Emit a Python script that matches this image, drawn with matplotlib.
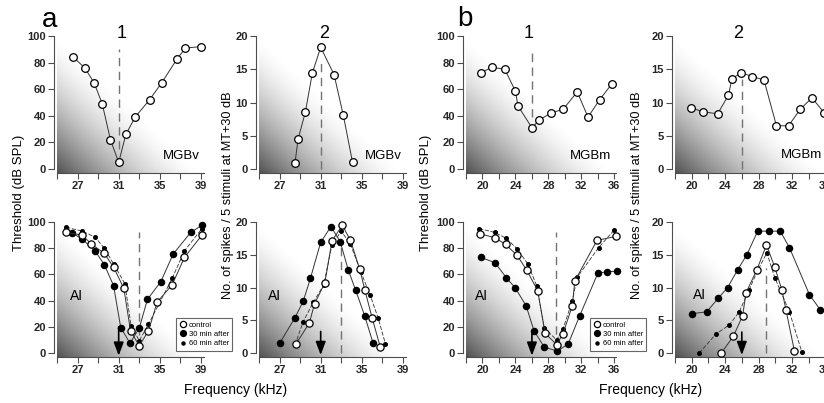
import numpy as np
import matplotlib.pyplot as plt
from matplotlib.lines import Line2D

plt.rcParams['font.family'] = ['Liberation Sans', 'DejaVu Sans']

W, H = 824, 403

# ---- a, top: MGBv neuron ----
a1_freq = [26.6, 27.7, 28.6, 29.4, 30.2, 31.0, 31.7, 32.6, 34.0, 35.2, 36.7, 37.5, 39.0]
a1_thr = [84, 76, 65, 49, 22, 5, 26, 39, 52, 65, 83, 91, 92]
a2_freq = [28.5, 28.8, 29.5, 30.2, 31.0, 32.3, 33.2, 34.1]
a2_spk = [0.9, 4.5, 8.5, 14.5, 18.3, 14.2, 8.1, 1.0]

# ---- b, top: MGBm neuron ----
b1_freq = [19.85, 21.15, 22.7, 24.0, 24.3, 26.0, 26.9, 28.3, 29.8, 31.5, 32.8, 34.2, 35.7]
b1_thr = [72.5, 76.5, 75, 58.5, 47.5, 31, 37, 42, 45, 58, 39, 52, 64]
b2_freq = [19.9, 21.4, 23.1, 24.4, 24.8, 25.9, 27.25, 28.65, 30.15, 31.6, 33.0, 34.4, 35.9]
b2_spk = [9.2, 8.6, 8.3, 11.1, 13.5, 14.5, 13.9, 13.4, 6.5, 6.5, 9.0, 10.7, 8.4]

# ---- a, bottom: AI, threshold ----
a3_ctrl_f = [25.9, 27.45, 28.3, 29.6, 30.5, 31.5, 32.15, 33.0, 33.9, 34.75, 36.2, 37.4, 39.1]
a3_ctrl_t = [92, 90, 83.5, 76, 65.5, 49.5, 17, 5.5, 17, 39, 52, 73, 90]
a3_m30_f = [26.5, 27.45, 28.7, 29.6, 30.5, 31.2, 32.1, 33.0, 33.8, 35.1, 36.3, 38.0, 39.1]
a3_m30_t = [91.5, 87, 78, 67.5, 51.5, 19.5, 7.5, 19, 41, 54.5, 75.5, 92, 97.5]
a3_m60_f = [25.9, 27.45, 28.7, 29.6, 30.5, 31.6, 32.2, 33.0, 33.9, 36.2, 37.4, 39.1]
a3_m60_t = [96, 93, 88.5, 80, 68, 53, 21, 9.5, 22, 57, 78, 95]

# ---- a, bottom: AI, spikes ----
a4_m30_f = [27.05, 28.5, 29.3, 30.0, 31.0, 32.0, 32.9, 33.7, 34.4, 35.3, 36.1]
a4_m30_s = [1.6, 5.4, 7.9, 11.4, 16.9, 19.3, 17.0, 12.6, 9.6, 5.6, 1.5]
a4_ctrl_f = [28.6, 29.9, 30.4, 31.4, 32.1, 33.1, 33.9, 34.8, 35.3, 36.0, 36.8]
a4_ctrl_s = [1.4, 4.6, 7.5, 10.7, 17.1, 19.5, 17.2, 12.8, 9.6, 5.4, 0.9]
a4_m60_f = [28.5, 29.3, 30.3, 31.3, 32.1, 33.0, 33.9, 34.9, 35.8, 36.6, 37.3]
a4_m60_s = [1.2, 4.8, 7.8, 10.4, 16.5, 18.6, 16.6, 12.4, 8.9, 5.3, 1.4]

# ---- b, bottom: AI, threshold ----
b3_ctrl_f = [19.7, 21.5, 22.8, 24.2, 25.4, 26.7, 27.6, 29.0, 29.75, 30.9, 31.2, 33.9, 36.2]
b3_ctrl_t = [91, 88, 83, 74.5, 63, 47.5, 15, 6.5, 14.5, 36, 55, 86, 89]
b3_m30_f = [19.8, 21.5, 22.9, 24.0, 25.3, 26.25, 27.5, 29.1, 30.4, 31.8, 34.0, 35.1, 36.3]
b3_m30_t = [73, 69, 57.5, 49.5, 36, 17, 4.5, 1.5, 7, 28.5, 61, 62, 62.5]
b3_m60_f = [19.6, 21.5, 22.9, 24.2, 25.5, 26.6, 27.5, 29.0, 29.75, 30.9, 31.5, 34.1, 36.0]
b3_m60_t = [95, 92, 87.5, 79.5, 68, 51, 19, 10, 18, 40, 58, 80.5, 94]

# ---- b, bottom: AI, spikes ----
b4_m30_f = [20.0, 21.8, 23.2, 24.3, 25.5, 26.6, 27.9, 29.3, 30.6, 31.7, 34.1, 35.4]
b4_m30_s = [6.0, 6.3, 8.4, 10.0, 12.7, 15.0, 18.6, 18.6, 18.6, 16.1, 8.9, 6.6]
b4_ctrl_f = [23.55, 25.0, 26.1, 26.5, 27.8, 28.95, 29.95, 30.8, 31.3, 32.3]
b4_ctrl_s = [0.0, 2.6, 5.7, 9.2, 12.7, 16.5, 13.1, 9.6, 6.5, 0.3]
b4_m60_f = [20.9, 22.9, 24.5, 25.7, 26.85, 27.9, 29.0, 29.95, 31.7, 33.2]
b4_m60_s = [0.0, 2.9, 4.3, 6.3, 9.6, 12.6, 15.3, 11.5, 6.3, 0.1]

# best frequencies (dashed lines) and conditioning frequencies (arrows)
bf_a_top, bf_a_bot = 31, 33
bf_b_top, bf_b_bot = 26, 28.9
arrow_a, arrow_b = 31, 26

legend_labels = ['control', '30 min after', '60 min after']

fig = plt.figure(figsize=(W / 100, H / 100), dpi=100)


def add_ax(left, right, top, bottom):
    return fig.add_axes([left / W, 1 - bottom / H, (right - left) / W, (bottom - top) / H])


def shade(ax):
    u = np.linspace(0, 1, 200)
    U, V = np.meshgrid(u, u)
    s = np.clip(U + V, 0, 1)
    g = 1 - 0.68 * (1 - s) ** 1.5
    ax.imshow(g, cmap='gray', vmin=0, vmax=1, extent=[0, 1, 0, 1], origin='lower',
              transform=ax.transAxes, aspect='auto', zorder=0, interpolation='bilinear')


def style(ax, xlim, xmaj, ymax, ystep):
    shade(ax)
    ax.set_xlim(*xlim)
    ax.set_ylim(-0.03 * ymax, ymax)
    for sp in ['top', 'right']:
        ax.spines[sp].set_visible(False)
    ax.spines['left'].set_position(('outward', 2))
    ax.spines['left'].set_bounds(0, ymax)
    ax.spines['left'].set_color('0.3')
    ax.spines['bottom'].set_color('0.3')
    ax.set_yticks(np.arange(0, ymax + 1, ystep))
    ax.set_xticks(xmaj)
    ax.set_xticks(np.arange(xmaj[0] - 2, xmaj[-1] + 1, 2), minor=True)
    ax.tick_params(length=4, width=0.8, color='0.3', labelsize=8, pad=2)
    ax.tick_params(which='minor', length=4, width=0.8, color='0.3')
    for lab in ax.get_xticklabels() + ax.get_yticklabels():
        lab.set_fontweight('bold')
        lab.set_color('0.15')


def vdash(ax, x, y0, y1):
    ax.plot([x, x], [y0, y1], ls=(0, (6, 4)), color='0.45', lw=1, zorder=2)


def arrow(ax, x, y0, y1):
    ax.annotate('', xy=(x, y1), xytext=(x, y0), annotation_clip=False, zorder=5,
                arrowprops=dict(arrowstyle='-|>,head_width=0.3,head_length=0.8',
                                color='k', lw=1.2, shrinkA=0, shrinkB=0))


def open_line(ax, f, v, ms=5.5):
    ax.plot(f, v, '-', color='0.2', lw=0.7, marker='o', ms=ms, mfc='white', mec='k',
            mew=0.9, zorder=4, clip_on=False)


def three(ax, c, m30, m60):
    ax.plot(m60[0], m60[1], color='0.2', lw=0.6, ls=(0, (5, 2)), marker='o', ms=2.6,
            mfc='k', mec='k', zorder=3, clip_on=False)
    ax.plot(m30[0], m30[1], color='0.2', lw=0.7, marker='o', ms=4.4,
            mfc='k', mec='k', zorder=3, clip_on=False)
    open_line(ax, c[0], c[1], ms=5.2)


xa = (25.8, 39.3)
xb = (19.3, 36.2)
ta = [27, 31, 35, 39]
tb = [20, 24, 28, 32, 36]

# top row
a1 = add_ax(57, 204, 36, 173)
style(a1, xa, ta, 100, 20)
vdash(a1, bf_a_top, 15, 90)
open_line(a1, a1_freq, a1_thr)
a1.text(0.97, 0.08, 'MGBv', transform=a1.transAxes, ha='right', va='bottom', fontsize=9.5)

a2 = add_ax(259, 406, 36, 173)
style(a2, xa, ta, 20, 5)
vdash(a2, bf_a_top, 0, 16)
open_line(a2, a2_freq, a2_spk)
a2.text(0.97, 0.08, 'MGBv', transform=a2.transAxes, ha='right', va='bottom', fontsize=9.5)

b1 = add_ax(466, 616, 36, 173)
style(b1, xb, tb, 100, 20)
vdash(b1, bf_b_top, 39, 89)
open_line(b1, b1_freq, b1_thr)
b1.text(0.97, 0.08, 'MGBm', transform=b1.transAxes, ha='right', va='bottom', fontsize=9.5)

b2 = add_ax(675, 827, 36, 173)
style(b2, xb, tb, 20, 5)
vdash(b2, bf_b_top, 0, 13.5)
open_line(b2, b2_freq, b2_spk)
b2.text(35.6, 1.2, 'MGBm', ha='right', va='bottom', fontsize=9.5)

# bottom row
a3 = add_ax(57, 204, 222, 357)
style(a3, xa, ta, 100, 20)
vdash(a3, bf_a_bot, 3, 92)
three(a3, (a3_ctrl_f, a3_ctrl_t), (a3_m30_f, a3_m30_t), (a3_m60_f, a3_m60_t))
arrow(a3, arrow_a, 20, -2)
a3.text(0.09, 0.42, 'AI', transform=a3.transAxes, fontsize=10)

a4 = add_ax(259, 406, 222, 357)
style(a4, xa, ta, 20, 5)
vdash(a4, bf_a_bot, 0, 16.5)
three(a4, (a4_ctrl_f, a4_ctrl_s), (a4_m30_f, a4_m30_s), (a4_m60_f, a4_m60_s))
arrow(a4, arrow_a, 3.3, -0.3)
a4.text(0.06, 0.42, 'AI', transform=a4.transAxes, fontsize=10)

b3 = add_ax(466, 616, 222, 357)
style(b3, xb, tb, 100, 20)
vdash(b3, bf_b_bot, 4, 92.5)
three(b3, (b3_ctrl_f, b3_ctrl_t), (b3_m30_f, b3_m30_t), (b3_m60_f, b3_m60_t))
arrow(b3, arrow_b, 16, -2)
b3.text(0.06, 0.42, 'AI', transform=b3.transAxes, fontsize=10)

b4 = add_ax(675, 827, 222, 357)
style(b4, xb, tb, 20, 5)
vdash(b4, bf_b_bot, 0, 13)
three(b4, (b4_ctrl_f, b4_ctrl_s), (b4_m30_f, b4_m30_s), (b4_m60_f, b4_m60_s))
arrow(b4, arrow_b, 3.2, -0.3)
b4.text(20.2, 8.2, 'AI', fontsize=10)

# legends
handles = [Line2D([], [], ls='none', marker='o', ms=4.5, mfc='white', mec='k', mew=0.9),
           Line2D([], [], ls='none', marker='o', ms=4.2, mfc='k', mec='k'),
           Line2D([], [], ls='none', marker='o', ms=2.2, mfc='k', mec='k')]
for x0 in (176, 590):
    leg = fig.legend(handles, legend_labels, loc='upper left',
                     bbox_to_anchor=(x0 / W, 1 - 318 / H), fontsize=5.5, frameon=True,
                     fancybox=False, edgecolor='0.4', framealpha=1, borderpad=0.45,
                     labelspacing=0.25, handletextpad=0.2, handlelength=1.0,
                     borderaxespad=0)
    leg.get_frame().set_linewidth(0.8)

# labels
fig.text(50 / W, 1 - 20 / H, 'a', fontsize=20, ha='center', va='center')
fig.text(465 / W, 1 - 19 / H, 'b', fontsize=20, ha='center', va='center')
for x, t in [(122, '1'), (324, '2'), (529, '1'), (738, '2')]:
    fig.text(x / W, 1 - 33 / H, t, fontsize=13, ha='center', va='center')

for x in (19, 426):
    fig.text(x / W, 1 - 193 / H, 'Threshold (dB SPL)', rotation=90, fontsize=9.5,
             ha='center', va='center')
for x in (228, 637):
    fig.text(x / W, 1 - 195 / H, 'No. of spikes / 5 stimuli at MT+30 dB', rotation=90,
             fontsize=9.2, ha='center', va='center')
for x in (236, 651):
    fig.text(x / W, 1 - 390 / H, 'Frequency (kHz)', fontsize=10, ha='center', va='center')

fig.savefig('out.png', dpi=100)
